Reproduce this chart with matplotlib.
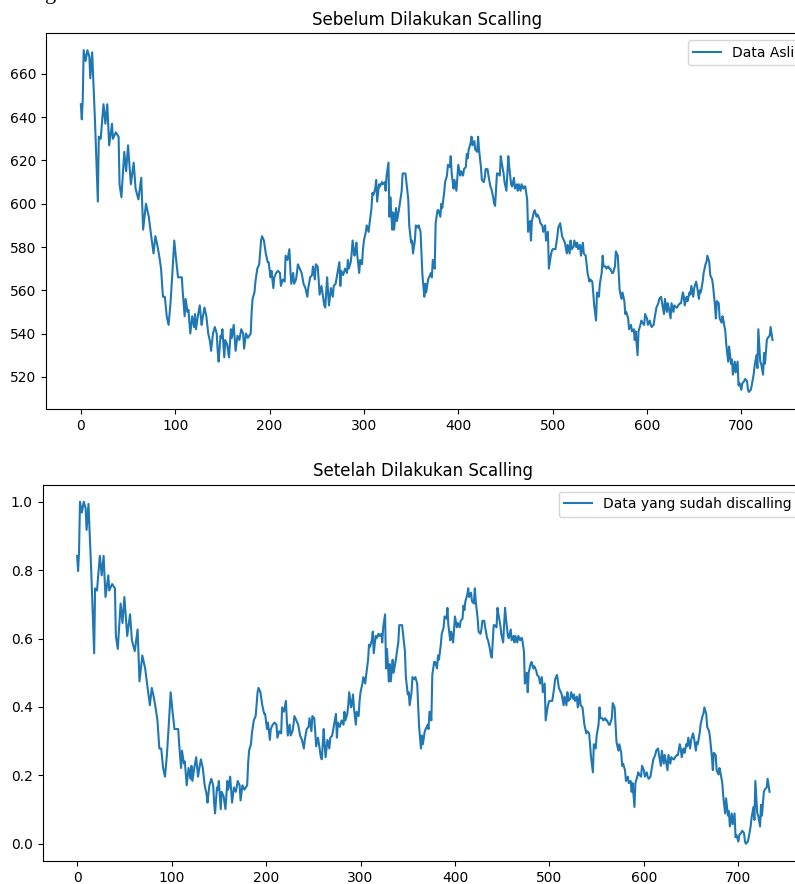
import matplotlib
matplotlib.use("Agg")
import matplotlib.pyplot as plt
import numpy as np

# hari ke- (index) dan harga penutupan
hari = [
    0, 1, 2, 3, 5, 7, 9, 10, 12, 15, 18, 19, 21, 24, 26, 28, 30, 33, 34, 37,
    40, 41, 43, 46, 48, 50, 53, 56, 58, 61, 64, 66, 69, 72, 74, 77, 79, 81, 83, 85,
    87, 89, 91, 93, 95, 97, 99, 101, 103, 104, 107, 108, 110, 111, 113, 114, 116, 118, 120, 121,
    122, 124, 126, 128, 129, 131, 133, 135, 137, 138, 140, 142, 144, 145, 146, 148, 149, 150, 152, 153,
    155, 157, 159, 160, 162, 164, 166, 168, 170, 172, 173, 175, 177, 180, 181, 182, 184, 185, 187, 189,
    191, 192, 194, 196, 198, 199, 201, 202, 204, 205, 207, 209, 211, 212, 214, 216, 217, 219, 221, 222,
    223, 225, 226, 228, 229, 230, 232, 234, 236, 238, 240, 241, 243, 245, 246, 248, 249, 251, 252, 253,
    255, 256, 258, 259, 261, 262, 263, 265, 267, 268, 270, 272, 274, 275, 276, 278, 280, 282, 283, 284,
    286, 287, 288, 290, 291, 292, 293, 295, 296, 298, 299, 300, 302, 303, 305, 306, 308, 309, 310, 312,
    313, 314, 316, 317, 319, 320, 322, 323, 324, 326, 327, 328, 330, 331, 332, 334, 335, 337, 338, 340,
    341, 342, 344, 345, 347, 348, 350, 351, 352, 354, 355, 357, 358, 360, 361, 362, 364, 365, 366, 368,
    369, 371, 372, 373, 375, 376, 378, 379, 381, 382, 383, 385, 386, 388, 389, 391, 392, 393, 395, 396,
    398, 399, 400, 402, 403, 405, 406, 408, 409, 410, 411, 413, 414, 415, 417, 418, 420, 421, 422, 424,
    425, 427, 428, 429, 431, 432, 434, 435, 437, 438, 439, 441, 442, 444, 445, 446, 448, 449, 451, 452,
    453, 454, 456, 457, 459, 460, 462, 463, 464, 466, 467, 469, 470, 471, 473, 474, 476, 477, 478, 480,
    481, 483, 484, 486, 487, 489, 490, 492, 493, 495, 496, 498, 499, 500, 502, 503, 505, 506, 508, 509,
    510, 512, 513, 515, 516, 518, 519, 520, 522, 523, 525, 526, 527, 529, 530, 532, 533, 535, 536, 537,
    539, 540, 542, 543, 544, 546, 547, 549, 550, 552, 553, 554, 556, 557, 559, 560, 561, 563, 564, 566,
    567, 569, 570, 571, 573, 574, 576, 577, 578, 580, 581, 583, 584, 586, 587, 588, 590, 591, 593, 594,
    595, 597, 598, 600, 601, 603, 604, 605, 607, 608, 610, 611, 612, 613, 615, 616, 618, 619, 621, 622,
    623, 625, 626, 628, 629, 631, 632, 633, 635, 636, 638, 639, 640, 642, 643, 645, 646, 647, 649, 650,
    652, 653, 655, 656, 657, 659, 660, 662, 663, 664, 666, 667, 669, 670, 672, 673, 674, 676, 677, 679,
    680, 681, 683, 684, 686, 687, 689, 690, 691, 693, 694, 696, 697, 698, 700, 701, 703, 704, 706, 707,
    708, 710, 711, 713, 714, 716, 717, 718, 720, 721, 723, 724, 725, 727, 728, 730, 731, 733,
]
harga = [
    646, 639, 648, 671, 666, 671, 668, 658, 670, 638, 601, 631, 630, 646, 637, 646, 627, 637, 630, 633,
    631, 609, 603, 624, 615, 627, 609, 619, 607, 602, 612, 588, 600, 594, 587, 577, 585, 581, 576, 570,
    557, 557, 548, 544, 554, 568, 583, 574, 566, 566, 566, 559, 548, 556, 550, 551, 540, 548, 543, 549,
    542, 548, 553, 544, 547, 552, 548, 540, 536, 532, 540, 543, 540, 532, 527, 539, 538, 542, 529, 537,
    535, 529, 542, 538, 544, 532, 539, 537, 542, 540, 533, 540, 538, 540, 550, 556, 559, 564, 570, 572,
    583, 585, 583, 577, 573, 573, 566, 569, 561, 566, 568, 569, 568, 562, 565, 564, 576, 574, 579, 570,
    563, 568, 563, 565, 568, 572, 570, 568, 563, 561, 557, 561, 566, 567, 571, 565, 572, 571, 565, 558,
    562, 559, 553, 552, 566, 559, 553, 561, 557, 562, 563, 568, 573, 562, 569, 567, 570, 568, 574, 570,
    573, 577, 583, 576, 578, 582, 576, 568, 574, 572, 579, 583, 587, 590, 587, 591, 598, 605, 604, 607,
    611, 601, 609, 608, 610, 609, 610, 606, 613, 619, 594, 603, 588, 596, 588, 598, 592, 597, 600, 606,
    614, 614, 614, 610, 602, 590, 582, 583, 577, 583, 590, 589, 590, 587, 577, 567, 557, 563, 559, 565,
    566, 568, 566, 574, 570, 591, 597, 597, 594, 600, 598, 605, 610, 613, 618, 617, 622, 614, 607, 611,
    606, 612, 618, 613, 615, 613, 616, 617, 623, 621, 625, 628, 631, 627, 629, 625, 624, 631, 625, 617,
    611, 610, 612, 616, 616, 613, 608, 607, 603, 600, 599, 614, 614, 613, 622, 619, 614, 610, 606, 614,
    622, 617, 609, 608, 612, 607, 609, 606, 609, 606, 609, 607, 608, 608, 602, 587, 592, 583, 592, 596,
    597, 594, 595, 593, 591, 590, 587, 590, 583, 587, 570, 576, 578, 579, 579, 579, 585, 589, 591, 588,
    585, 583, 582, 577, 581, 577, 583, 579, 580, 583, 580, 582, 579, 581, 576, 582, 577, 576, 572, 568,
    564, 565, 564, 559, 553, 546, 559, 557, 563, 568, 576, 571, 571, 570, 571, 570, 570, 568, 568, 571,
    578, 576, 568, 560, 556, 559, 555, 549, 550, 547, 542, 544, 541, 542, 537, 541, 530, 541, 544, 546,
    545, 544, 549, 547, 544, 546, 544, 543, 544, 547, 552, 553, 554, 556, 557, 554, 549, 556, 550, 554,
    552, 547, 554, 550, 553, 552, 552, 553, 554, 554, 559, 557, 553, 557, 555, 559, 558, 562, 557, 561,
    564, 562, 556, 560, 559, 564, 568, 572, 573, 576, 573, 567, 565, 562, 553, 547, 555, 554, 547, 545,
    548, 546, 541, 535, 527, 534, 526, 528, 521, 527, 522, 527, 516, 517, 514, 517, 518, 519, 518, 514,
    513, 514, 516, 521, 525, 530, 524, 542, 527, 526, 521, 531, 526, 537, 538, 539, 543, 537,
]

hari = np.array(hari)
harga = np.array(harga, dtype=float)

# min-max scaling ke rentang 0..1
harga_scaled = (harga - harga.min()) / (harga.max() - harga.min())

fig = plt.figure(figsize=(7.95, 8.84), dpi=100)

ax1 = fig.add_axes([0.0582, 0.5373, 0.957, 0.4253])
ax1.plot(hari, harga, color="#1f77b4", label="Data Asli")
ax1.set_title("Sebelum Dilakukan Scalling")
ax1.legend(loc="upper right")

ax2 = fig.add_axes([0.0535, 0.0262, 0.958, 0.4255])
ax2.plot(hari, harga_scaled, color="#1f77b4", label="Data yang sudah discalling")
ax2.set_title("Setelah Dilakukan Scalling")
ax2.legend(loc="upper right")

# sisa huruf dari teks di atas gambar
fig.text(45 / 795, 1 + 1.5 / 884, "g", family="Liberation Serif", fontsize=16, va="baseline")

fig.savefig("out.png", dpi=100)
